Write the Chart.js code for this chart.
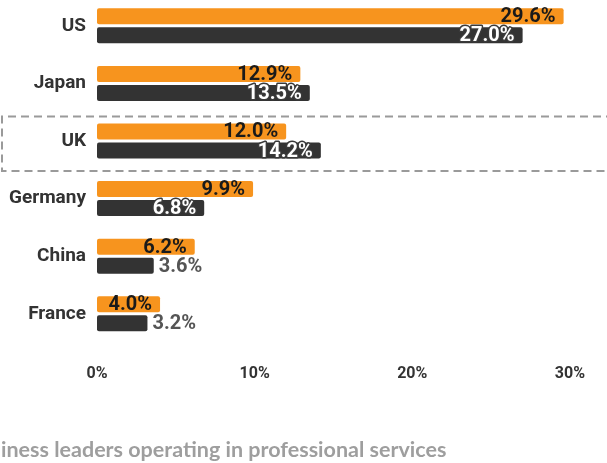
<!DOCTYPE html>
<html>
<head>
<meta charset="utf-8">
<script src="https://cdn.jsdelivr.net/npm/chart.js@4"></script>
<style>
  html, body { margin: 0; padding: 0; background: #fff; overflow: hidden; }
  #wrap { position: absolute; left: 0; top: -3px; width: 607px; height: 466px; }
</style>
</head>
<body>
<div id="wrap"><canvas id="chart"></canvas></div>
<script>
// Share of business leaders, by country
const countries = ['US', 'Japan', 'UK', 'Germany', 'China', 'France'];
const orangeValues = [29.6, 12.9, 12.0, 9.9, 6.2, 4.0];
const darkValues = [27.0, 13.5, 14.2, 6.8, 3.6, 3.2];
const xTicks = [0, 10, 20, 30];
const highlighted = 'UK';
const footnote = 'iness leaders operating in professional services';

const ORANGE = '#f7941e';
const DARK = '#333333';

// value labels: inside the bar end when they fit, otherwise just after it
const barLabels = {
  id: 'barLabels',
  afterDatasetsDraw(chart) {
    const c = chart.ctx;
    c.save();
    c.font = "bold 20px 'Roboto', sans-serif";
    c.textBaseline = 'middle';
    chart.data.datasets.forEach((ds, di) => {
      const meta = chart.getDatasetMeta(di);
      meta.data.forEach((bar, i) => {
        const text = ds.data[i].toFixed(1) + '%';
        const w = c.measureText(text).width;
        const len = bar.x - bar.base;
        const y = bar.y + 1;
        if (w + 16 <= len) {
          c.textAlign = 'right';
          if (di === 0) {
            c.fillStyle = '#1a1a1a';
            c.fillText(text, bar.x - 8, y);
          } else {
            c.lineJoin = 'round';
            c.lineWidth = 3;
            c.strokeStyle = '#3a3a3a';
            c.strokeText(text, bar.x - 8, y);
            c.fillStyle = '#ffffff';
            c.fillText(text, bar.x - 8, y);
          }
        } else {
          c.textAlign = 'left';
          c.fillStyle = '#555555';
          c.fillText(text, bar.x + 5, y);
        }
      });
    });
    c.restore();
  }
};

// dashed frame around the highlighted country, open on the right
const highlightBox = {
  id: 'highlightBox',
  afterDraw(chart) {
    const c = chart.ctx;
    const yScale = chart.scales.y;
    const cy = yScale.getPixelForValue(countries.indexOf(highlighted));
    const top = cy - 24.5, bottom = cy + 30, left = 2, right = chart.width + 20;
    c.save();
    c.strokeStyle = '#9a9a9a';
    c.lineWidth = 2;
    c.setLineDash([8, 5]);
    c.beginPath();
    c.moveTo(right, top);
    c.lineTo(left, top);
    c.lineTo(left, bottom);
    c.lineTo(right, bottom);
    c.stroke();
    c.restore();
  }
};

// footnote under the axis
const footer = {
  id: 'footer',
  afterDraw(chart) {
    const c = chart.ctx;
    c.save();
    c.font = "bold 21.5px 'Lato', sans-serif";
    c.fillStyle = '#9e9e9e';
    c.textAlign = 'left';
    c.textBaseline = 'alphabetic';
    c.fillText(footnote, 1, 459.5);
    c.restore();
  }
};

new Chart(document.getElementById('chart'), {
  type: 'bar',
  data: {
    labels: countries,
    datasets: [
      {
        label: 'Orange',
        data: orangeValues,
        backgroundColor: ORANGE,
        borderRadius: 2,
        borderSkipped: false,
        categoryPercentage: 0.66,
        barPercentage: 0.84
      },
      {
        label: 'Dark',
        data: darkValues,
        backgroundColor: DARK,
        borderRadius: 2,
        borderSkipped: false,
        categoryPercentage: 0.66,
        barPercentage: 0.84
      }
    ]
  },
  options: {
    indexAxis: 'y',
    responsive: true,
    maintainAspectRatio: false,
    animation: false,
    layout: { padding: { top: 0, right: 37, bottom: 0, left: 0 } },
    plugins: {
      legend: { display: false },
      tooltip: { enabled: false }
    },
    scales: {
      x: {
        min: 0,
        max: 30,
        afterFit: s => { s.height = 120.4; },
        afterBuildTicks: s => { s.ticks = xTicks.map(v => ({ value: v })); },
        grid: { display: false, drawTicks: false },
        border: { display: false },
        ticks: {
          padding: 22,
          color: '#333333',
          font: { family: "'Roboto', sans-serif", size: 16, weight: 'bold' },
          callback: v => v + '%'
        }
      },
      y: {
        afterFit: s => { s.width = 97; s.paddingTop = 0; s.paddingBottom = 0; },
        grid: { display: false, drawTicks: false },
        border: { display: false },
        ticks: {
          padding: 11,
          color: '#333333',
          font: { family: "'Roboto', sans-serif", size: 19, weight: 'bold' }
        }
      }
    }
  },
  plugins: [barLabels, highlightBox, footer]
});
</script>
</body>
</html>
